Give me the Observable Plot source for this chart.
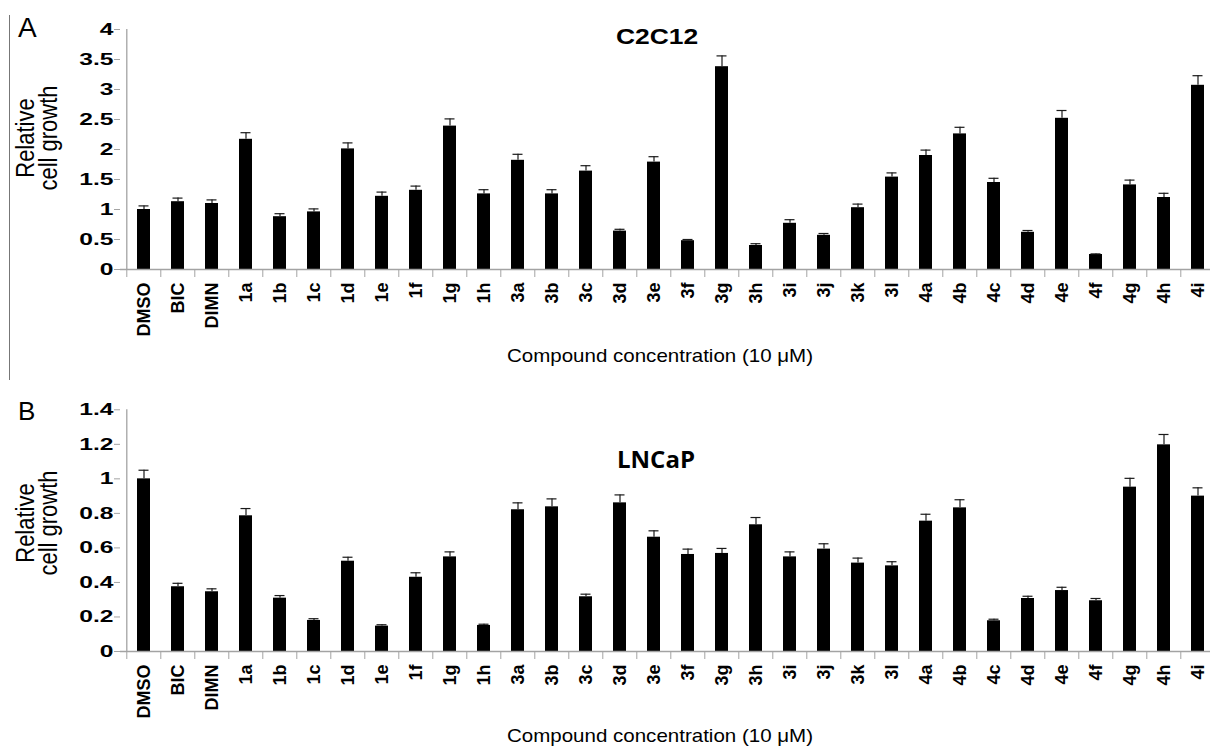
<!DOCTYPE html>
<html>
<head>
<meta charset="utf-8">
<script src="https://cdn.jsdelivr.net/npm/d3@7"></script>
<script src="https://cdn.jsdelivr.net/npm/@observablehq/plot@0.6"></script>
<style>
  html, body { margin: 0; padding: 0; background: #fff; overflow: hidden; }
  #wrap { position: relative; width: 1210px; height: 746px; overflow: hidden; background: #fff;
          font-family: "Liberation Sans", Arial, sans-serif; color: #000; }
  .lbl { position: absolute; white-space: nowrap; line-height: 1; }
</style>
</head>
<body>
<div id="wrap"></div>
<script>
// ---- data ----
const categories = ["DMSO","BIC","DIMN","1a","1b","1c","1d","1e","1f","1g","1h",
  "3a","3b","3c","3d","3e","3f","3g","3h","3i","3j","3k","3l",
  "4a","4b","4c","4d","4e","4f","4g","4h","4i"];

// Panel A: C2C12
const valuesA = [1.00,1.13,1.10,2.17,0.88,0.96,2.01,1.22,1.32,2.39,1.26,
  1.82,1.26,1.64,0.64,1.79,0.48,3.38,0.40,0.77,0.57,1.03,1.54,
  1.90,2.26,1.45,0.62,2.52,0.25,1.41,1.20,3.07];
const errorsA = [0.06,0.06,0.06,0.11,0.05,0.05,0.10,0.07,0.07,0.12,0.07,
  0.10,0.07,0.09,0.03,0.09,0.02,0.18,0.03,0.06,0.03,0.06,0.07,
  0.09,0.11,0.07,0.03,0.13,0.01,0.08,0.07,0.16];

// Panel B: LNCaP
const valuesB = [1.00,0.375,0.346,0.786,0.309,0.18,0.523,0.147,0.43,0.548,0.151,
  0.821,0.838,0.317,0.861,0.662,0.562,0.568,0.734,0.548,0.593,0.512,0.496,
  0.755,0.832,0.178,0.307,0.353,0.294,0.952,1.197,0.90];
const errorsB = [0.05,0.02,0.017,0.042,0.015,0.01,0.023,0.008,0.026,0.029,0.007,
  0.04,0.046,0.015,0.046,0.037,0.031,0.029,0.042,0.029,0.031,0.029,0.024,
  0.04,0.047,0.009,0.013,0.019,0.013,0.051,0.06,0.048];

const yTicksA = [0,0.5,1,1.5,2,2.5,3,3.5,4];
const yTicksB = [0,0.2,0.4,0.6,0.8,1,1.2,1.4];

const titleA = "C2C12";
const titleB = "LNCaP";
const xTitle = "Compound concentration (10 μM)";
const yTitle = ["Relative", "cell growth"];

// ---- drawing ----
const W = 1225, ML = 120, MR = 4;
const step = (W - ML - MR) / categories.length;
const axisGray = "#a3a3a3";

function panel(values, errors, yMax, yTicks, height, marginTop, marginBottom) {
  const data = categories.map((c, i) => ({c, v: values[i], hi: values[i] + errors[i]}));
  const svg = Plot.plot({
    width: W, height, marginLeft: ML, marginRight: MR, marginTop, marginBottom,
    style: {fontFamily: "'Liberation Sans', Arial, sans-serif", maxWidth: "none", background: "transparent", color: "#000", overflow: "visible"},
    x: {type: "band", domain: categories, paddingInner: 0.62, paddingOuter: 0.31, label: null},
    y: {domain: [0, yMax], label: null},
    marks: [
      Plot.barY(data, {x: "c", y: "v", fill: "#000"}),
      Plot.ruleX(data, {x: "c", y1: "v", y2: "hi", stroke: "#1a1a1a", strokeWidth: 1.2}),
      Plot.tickY(data, {x: "c", y: "hi", stroke: "#1a1a1a", strokeWidth: 1.2, insetLeft: 1.5, insetRight: 1.5}),
      Plot.ruleY([0], {stroke: axisGray, strokeWidth: 1.3}),
      Plot.ruleX([categories[0]], {y1: 0, y2: yMax, dx: -step / 2, stroke: axisGray, strokeWidth: 1.3}),
      Plot.axisY({ticks: yTicks, tickSize: 6, tickPadding: 1, tickFormat: d => String(d),
        fontSize: 17, fontWeight: "bold", stroke: axisGray, fill: "#000", label: null}),
      Plot.axisX({tickSize: 8, dx: -step / 2, tickFormat: () => "", stroke: axisGray, label: null}),
      Plot.axisX({tickSize: 0, tickRotate: -90, tickPadding: 13, fontSize: 18, fontWeight: "bold", fill: "#000", label: null})
    ]
  });
  svg.querySelectorAll('g[aria-label="y-axis tick label"] text').forEach(t => {
    const tr = t.getAttribute("transform") || "";
    t.setAttribute("transform", tr + " scale(1.45,1)");
  });
  svg.style.position = "absolute";
  svg.style.left = "0px";
  return svg;
}

const wrap = document.getElementById("wrap");
const svgA = panel(valuesA, errorsA, 4, yTicksA, 375, 29, 106);
svgA.style.top = "0px";
wrap.appendChild(svgA);
const svgB = panel(valuesB, errorsB, 1.4, yTicksB, 371, 34.3, 95);
svgB.style.top = "375px";
wrap.appendChild(svgB);

function label(text, css) {
  const d = document.createElement("div");
  d.className = "lbl";
  d.textContent = text;
  Object.assign(d.style, css);
  wrap.appendChild(d);
  return d;
}

// left divider line
const line = document.createElement("div");
Object.assign(line.style, {position: "absolute", left: "9px", top: "15px", width: "0px", height: "365px", borderLeft: "1.5px solid #777"});
wrap.appendChild(line);

// panel letters
label("A", {left: "18px", top: "14px", fontSize: "28px"});
label("B", {left: "18px", top: "398px", fontSize: "26px"});

// titles
label(titleA, {left: "657px", top: "26px", fontSize: "22px", fontWeight: "bold", transform: "translateX(-50%) scaleX(1.2)"});
label(titleB, {left: "656px", top: "447px", fontSize: "24px", fontWeight: "bold", fontFamily: "'Open Sans', sans-serif", transform: "translateX(-50%)"});

// x titles
label(xTitle, {left: "660px", top: "346px", fontSize: "19px", transform: "translateX(-50%) scaleX(1.08)"});
label(xTitle, {left: "660px", top: "726px", fontSize: "19px", transform: "translateX(-50%) scaleX(1.08)"});

// y titles (two lines, rotated)
function yLabel(cy) {
  const d = document.createElement("div");
  d.className = "lbl";
  d.innerHTML = yTitle.map(s => `<div>${s}</div>`).join("");
  Object.assign(d.style, {left: (37 - 100) + "px", top: (cy - 20) + "px", width: "200px", height: "40px",
    fontSize: "22px", lineHeight: "20px", textAlign: "center", transform: "scaleX(1.15) rotate(-90deg)"});
  wrap.appendChild(d);
}
yLabel(138);
yLabel(523);
</script>
</body>
</html>
